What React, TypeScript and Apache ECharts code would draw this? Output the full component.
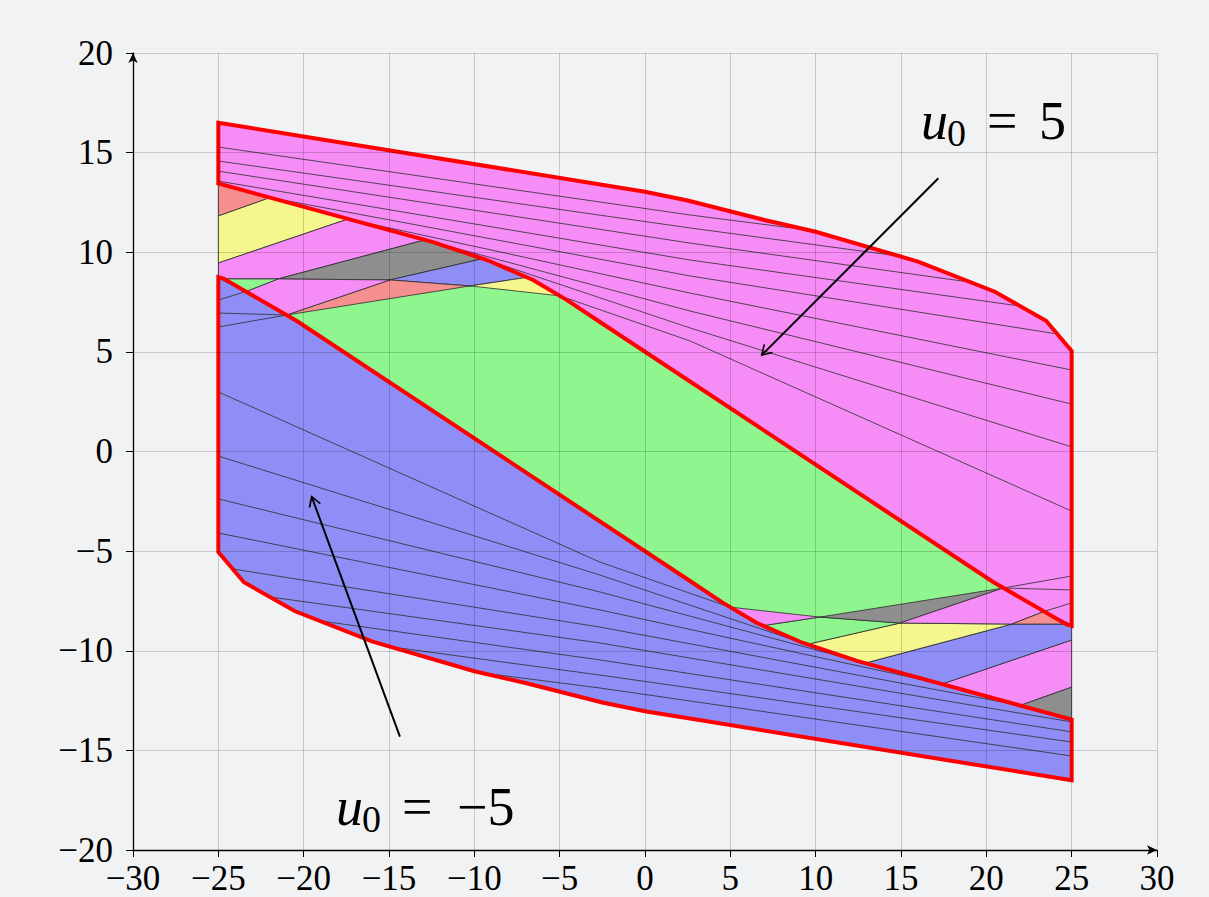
import React, { useEffect, useRef } from "react";
import * as echarts from "echarts";

// ---------- axis ----------
const xRange = [-30, 30];
const yRange = [-20, 20];
const tickStep = 5;

// ---------- outer boundaries of the two sets ----------
const upperTopEdge = [[-25, 16.5], [0, 13.04], [2.5, 12.6], [7, 11.62], [10, 11.03], [16, 9.53], [20.5, 8.02], [23.5, 6.56], [25, 5.05]];
const upperInnerEdge = [[25, -8.75], [24.7, -8.68], [20.4, -6.55], [-2.64, 6.5], [-4.57, 7.6], [-6.56, 8.61], [-9.26, 9.61], [-12.42, 10.51], [-25, 13.45]];
const lowerBottomEdge = [[25, -16.5], [0, -13.04], [-2.5, -12.6], [-7, -11.62], [-10, -11.03], [-16, -9.53], [-20.5, -8.02], [-23.5, -6.56], [-25, -5.05]];
const lowerInnerEdge = [[-25, 8.75], [-24.7, 8.68], [-20.4, 6.55], [2.64, -6.5], [4.57, -7.6], [6.56, -8.61], [9.26, -9.61], [12.42, -10.51], [25, -13.45]];

// ---------- top-left wedge cells ----------
const tlSalmon1 = [[-25, 13.45], [-21.97, 12.74], [-25, 11.82]];
const tlYellow1 = [[-25, 11.82], [-21.97, 12.74], [-17.4, 11.67], [-25, 9.46]];
const tlPink1 = [[-25, 9.46], [-17.4, 11.67], [-12.9, 10.62], [-21.5, 8.66], [-25, 8.66]];
const tlGray1 = [[-21.5, 8.66], [-12.9, 10.62], [-12.42, 10.51], [-9.5, 9.68], [-14.94, 8.61]];
const tlBlue1 = [[-14.94, 8.61], [-9.5, 9.68], [-9.26, 9.61], [-6.9, 8.74], [-10.25, 8.31]];
const tlYellow2 = [[-10.25, 8.31], [-6.9, 8.74], [-6.56, 8.61], [-4.98, 7.81]];
const tlSalmon2 = [[-21.0, 6.85], [-14.94, 8.61], [-10.25, 8.31]];
const tlPink2 = [[-21.5, 8.66], [-14.94, 8.61], [-21.0, 6.85], [-23.38, 8.03]];
const tlGreen1 = [[-24.9, 8.66], [-21.5, 8.66], [-23.38, 8.03]];
const tlEdgeLines = [
  [[-25, 7.6], [-23.38, 8.03]],
  [[-25, 6.95], [-21.0, 6.85]],
  [[-25, 6.25], [-21.0, 6.85]],
];

// ---------- bottom-right wedge cells ----------
const brGray1 = [[25, -13.45], [21.97, -12.74], [25, -11.82]];
const brPink1 = [[25, -11.82], [21.97, -12.74], [17.4, -11.67], [25, -9.46]];
const brBlue1 = [[25, -9.46], [17.4, -11.67], [12.9, -10.62], [21.5, -8.66], [25, -8.66]];
const brYellow1 = [[21.5, -8.66], [12.9, -10.62], [12.42, -10.51], [9.5, -9.68], [14.94, -8.61]];
const brGreen1 = [[14.94, -8.61], [9.5, -9.68], [9.26, -9.61], [6.9, -8.74], [10.25, -8.31]];
const brPink2 = [[10.25, -8.31], [6.9, -8.74], [6.56, -8.61], [4.98, -7.81]];
const brGray2 = [[21.0, -6.85], [14.94, -8.61], [10.25, -8.31]];
const brPink3 = [[21.5, -8.66], [14.94, -8.61], [21.0, -6.85], [23.38, -8.03]];
const brSalmon1 = [[24.9, -8.66], [21.5, -8.66], [23.38, -8.03]];
const brEdgeLines = [
  [[25, -7.6], [23.38, -8.03]],
  [[25, -6.95], [21.0, -6.85]],
  [[25, -6.25], [21.0, -6.85]],
];

// ---------- fan lines inside the sets ----------
const upperFan = [
  [[25, -2.99], [2.64, 5.55], [-4.98, 7.81]],
  [[25, 0.23], [2.64, 6.2], [-9.5, 9.68]],
  [[25, 2.38], [2.64, 7.05], [-12.9, 10.62]],
  [[25, 4.09], [2.64, 7.95], [-17.4, 11.67]],
  [[24.14, 5.9], [2.64, 8.81], [-21.97, 12.74]],
  [[21.97, 7.3], [2.64, 9.61], [-25, 13.57]],
  [[19.04, 8.5], [2.64, 10.46], [-25, 14.07]],
  [[14.94, 9.8], [2.64, 11.22], [-25, 14.58]],
  [[9.67, 11.1], [2.64, 11.87], [-25, 15.28]],
];
const lowerFan = [
  [[-25, 2.99], [-2.64, -5.55], [4.98, -7.81]],
  [[-25, -0.23], [-2.64, -6.2], [9.5, -9.68]],
  [[-25, -2.38], [-2.64, -7.05], [12.9, -10.62]],
  [[-25, -4.09], [-2.64, -7.95], [17.4, -11.67]],
  [[-24.14, -5.9], [-2.64, -8.81], [21.97, -12.74]],
  [[-21.97, -7.3], [-2.64, -9.61], [25, -13.57]],
  [[-19.04, -8.5], [-2.64, -10.46], [25, -14.07]],
  [[-14.94, -9.8], [-2.64, -11.22], [25, -14.58]],
  [[-9.67, -11.1], [-2.64, -11.87], [25, -15.28]],
];

// ---------- annotations ----------
const arrowStarts = [[17.19, 13.71], [-14.36, -14.31]];
const arrowEnds = [[6.84, 4.84], [-19.53, -2.27]];
const labelAnchors = [[16.17, 16.59], [-18.11, -17.82]];
const labelValues = ["5", "\u22125"];

// ---------- styles ----------
const PINK = "rgb(246,140,246)";
const GREEN = "rgb(143,246,143)";
const BLUE = "rgb(142,142,246)";
const YELLOW = "rgb(246,246,143)";
const SALMON = "rgb(246,143,143)";
const GRAY = "rgb(142,142,142)";
const EDGE = "rgba(45,45,45,0.8)";
const RED = "#ff0000";
const FONT = "Liberation Serif";

type Layer = { pts: number[][]; fill?: string; stroke?: string; width?: number; closed: boolean };

function buildLayers(): Layer[] {
  const upperSet = upperTopEdge.concat(upperInnerEdge);
  const lowerSet = lowerBottomEdge.concat(lowerInnerEdge);
  const hull = upperTopEdge.concat(lowerBottomEdge);
  const layers: Layer[] = [];
  layers.push({ pts: hull, fill: GREEN, closed: true });
  layers.push({ pts: upperSet, fill: PINK, closed: true });
  layers.push({ pts: lowerSet, fill: BLUE, closed: true });
  const cells: [number[][], string][] = [
    [tlSalmon1, SALMON], [tlYellow1, YELLOW], [tlPink1, PINK], [tlGray1, GRAY], [tlBlue1, BLUE],
    [tlYellow2, YELLOW], [tlSalmon2, SALMON], [tlPink2, PINK], [tlGreen1, GREEN],
    [brGray1, GRAY], [brPink1, PINK], [brBlue1, BLUE], [brYellow1, YELLOW], [brGreen1, GREEN],
    [brPink2, PINK], [brGray2, GRAY], [brPink3, PINK], [brSalmon1, SALMON],
  ];
  cells.forEach(([pts, c]) => layers.push({ pts, fill: c, stroke: EDGE, width: 1, closed: true }));
  [...tlEdgeLines, ...brEdgeLines, ...upperFan, ...lowerFan].forEach((pts) =>
    layers.push({ pts, stroke: EDGE, width: 1, closed: false })
  );
  layers.push({ pts: upperSet, stroke: RED, width: 4, closed: true });
  layers.push({ pts: lowerSet, stroke: RED, width: 4, closed: true });
  return layers;
}

const fmt = (v: number) => (v < 0 ? "\u2212" + Math.abs(v) : String(v));

export default function App() {
  const ref = useRef<HTMLDivElement>(null);
  useEffect(() => {
    if (!ref.current) return;
    const chart = echarts.init(ref.current, null, { renderer: "svg" });
    const layers = buildLayers();
    const axisCommon = {
      type: "value" as const,
      interval: tickStep,
      z: 10,
      axisLine: {
        show: true,
        onZero: false,
        lineStyle: { color: "#000", width: 1.3 },
        symbol: ["none", "arrow"],
        symbolSize: [7, 10],
      },
      axisTick: { show: true, inside: false, length: 7, lineStyle: { color: "#000", width: 1 } },
      splitLine: { show: true, lineStyle: { color: "rgba(0,0,0,0.17)", width: 1 } },
      axisLabel: {
        fontFamily: FONT,
        fontSize: 35,
        color: "#000",
        formatter: fmt,
        showMinLabel: true,
        showMaxLabel: true,
      },
    };
    const option: any = {
      animation: false,
      backgroundColor: "#f1f2f4",
      textStyle: { fontFamily: FONT },
      grid: { left: 133, top: 53, width: 1024, height: 797, containLabel: false },
      xAxis: { ...axisCommon, min: xRange[0], max: xRange[1], position: "bottom", axisLabel: { ...axisCommon.axisLabel, margin: 11 } },
      yAxis: { ...axisCommon, min: yRange[0], max: yRange[1], position: "left", axisLabel: { ...axisCommon.axisLabel, margin: 20 } },
      series: [
        {
          type: "custom",
          silent: true,
          z: 2,
          data: layers.map(() => [0, 0]),
          renderItem: (params: any, api: any) => {
            const L = layers[params.dataIndex];
            const points = L.pts.map((p) => api.coord(p));
            if (L.closed) {
              return {
                type: "polygon",
                shape: { points },
                style: {
                  fill: L.fill || "none",
                  stroke: L.stroke || "none",
                  lineWidth: L.width || 0,
                  lineJoin: "miter",
                },
              };
            }
            return {
              type: "polyline",
              shape: { points },
              style: { fill: "none", stroke: L.stroke, lineWidth: L.width },
            };
          },
        },
        {
          type: "custom",
          silent: true,
          z: 20,
          data: arrowStarts.map(() => [0, 0]),
          renderItem: (params: any, api: any) => {
            const i = params.dataIndex;
            const p0 = api.coord(arrowStarts[i]);
            const p1 = api.coord(arrowEnds[i]);
            const ang = Math.atan2(p1[1] - p0[1], p1[0] - p0[0]);
            const hl = 11;
            const ha = 0.55;
            const h1 = [p1[0] - hl * Math.cos(ang - ha), p1[1] - hl * Math.sin(ang - ha)];
            const h2 = [p1[0] - hl * Math.cos(ang + ha), p1[1] - hl * Math.sin(ang + ha)];
            const a = api.coord(labelAnchors[i]);
            const big = 54;
            const small = 38;
            const eqDx = i === 0 ? 66 : 66;
            const valDx = i === 0 ? 118 : 121;
            const txt = (text: string, dx: number, dy: number, size: number, italic = false) => ({
              type: "text",
              x: a[0] + dx,
              y: a[1] + dy,
              style: {
                text,
                fontFamily: FONT,
                fontSize: size,
                fontStyle: italic ? "italic" : "normal",
                fill: "#000",
                align: "left",
                verticalAlign: "middle",
              },
            });
            return {
              type: "group",
              children: [
                { type: "polyline", shape: { points: [p0, p1] }, style: { stroke: "#000", lineWidth: 2, fill: "none" } },
                { type: "polyline", shape: { points: [h1, p1, h2] }, style: { stroke: "#000", lineWidth: 1.6, fill: "none" } },
                txt("u", 0, 0, big, true),
                txt("0", 26, 12, small),
                txt("=", eqDx, 0, big),
                txt(labelValues[i], valDx, 0, big),
              ],
            };
          },
        },
      ],
    };
    chart.setOption(option);
    return () => chart.dispose();
  }, []);
  return <div ref={ref} style={{ position: "fixed", left: 0, top: 0, width: 1209, height: 897 }} />;
}
